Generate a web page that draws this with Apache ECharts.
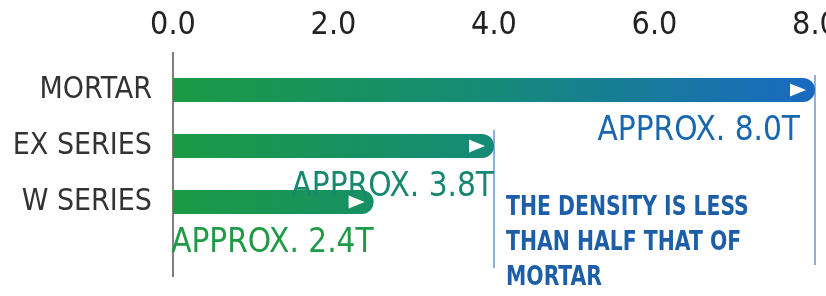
<!DOCTYPE html>
<html>
<head>
<meta charset="utf-8">
<style>
  html, body { margin: 0; padding: 0; background: #fff; }
  #chart { width: 826px; height: 296px; }
</style>
<script src="https://cdn.jsdelivr.net/npm/echarts@6/dist/echarts.min.js"></script>
</head>
<body>
<div id="chart"></div>
<script>
var categories = ['MORTAR', 'EX SERIES', 'W SERIES'];
var barValues = [8.0, 4.0, 2.5];
var valueLabels = ['APPROX. 8.0T', 'APPROX. 3.8T', 'APPROX. 2.4T'];
var labelColors = ['#1a67b0', '#17886f', '#1f9a47'];
var noteText = 'THE DENSITY IS LESS\nTHAN HALF THAT OF\nMORTAR';
var xTicks = { min: 0, max: 8, interval: 2 };

var FONT = '"DejaVu Sans Condensed", "Liberation Sans Narrow", sans-serif';

var chart = echarts.init(document.getElementById('chart'));

// gradient runs over the whole axis so the short bars stay green
var barFill = new echarts.graphic.LinearGradient(173, 0, 815, 0, [
    { offset: 0, color: '#1b9a44' },
    { offset: 0.5, color: '#158a78' },
    { offset: 1, color: '#1a69c2' }
], true);

var labelOffsets = [[-28, 0], [-13, 0], [-13, 0]];

var barData = barValues.map(function (v, i) {
    return {
        value: v,
        label: {
            formatter: valueLabels[i],
            color: labelColors[i],
            offset: labelOffsets[i]
        }
    };
});

var arrowData = barValues.map(function (v, i) {
    return [v, categories[i]];
});

var option = {
    animation: false,
    grid: {
        left: 173, right: 11, top: 62, height: 168,
        containLabel: false,
        outerBoundsMode: 'none'
    },
    xAxis: {
        type: 'value',
        position: 'top',
        min: xTicks.min,
        max: xTicks.max,
        interval: xTicks.interval,
        axisLine: { show: false },
        axisTick: { show: false },
        splitLine: { show: false },
        axisLabel: {
            margin: 20,
            fontFamily: FONT,
            fontSize: 32,
            color: '#222',
            formatter: function (v) { return v.toFixed(1); }
        }
    },
    yAxis: {
        type: 'category',
        inverse: true,
        data: categories,
        axisLine: { show: false },
        axisTick: { show: false },
        axisLabel: {
            margin: 21,
            fontFamily: FONT,
            fontSize: 30,
            color: '#333'
        }
    },
    series: [
        {
            type: 'bar',
            data: barData,
            barWidth: 24,
            itemStyle: { color: barFill, borderRadius: [0, 12, 12, 0] },
            label: {
                show: true,
                position: 'insideBottomRight',
                verticalAlign: 'top',
                align: 'right',
                distance: -13,
                fontFamily: FONT,
                fontSize: 33
            },
            z: 2
        },
        {
            type: 'scatter',
            data: arrowData,
            symbol: 'triangle',
            symbolSize: [13, 16],
            symbolRotate: -90,
            symbolOffset: [-17, 0],
            itemStyle: { color: '#fff', opacity: 1 },
            z: 3
        }
    ]
};

chart.setOption(option);

function px(x, cat) {
    return chart.convertToPixel({ gridIndex: 0 }, [x, cat]);
}

var p0a = px(0, categories[0]);
var p4 = px(4, categories[1]);
var p8 = px(8, categories[0]);
var pW = px(0, categories[2]);

chart.setOption({
    graphic: [
        {
            type: 'line',
            shape: { x1: p0a[0], y1: p0a[1] - 38, x2: p0a[0], y2: pW[1] + 75 },
            style: { stroke: '#555', lineWidth: 1.5 },
            z: 1
        },
        {
            type: 'line',
            shape: { x1: p4[0], y1: p4[1] - 16, x2: p4[0], y2: pW[1] + 66 },
            style: { stroke: '#6a94d2', lineWidth: 1.5 },
            z: 1
        },
        {
            type: 'line',
            shape: { x1: p8[0], y1: p8[1] - 15, x2: p8[0], y2: pW[1] + 63 },
            style: { stroke: '#6a94d2', lineWidth: 1.5 },
            z: 1
        },
        {
            type: 'text',
            x: p4[0] + 12,
            y: pW[1] - 12,
            scaleX: 0.84,
            style: {
                text: noteText,
                fontFamily: FONT,
                fontSize: 27,
                fontWeight: 'bold',
                lineHeight: 35,
                fill: '#1c5fa8'
            },
            z: 5
        }
    ]
});
</script>
</body>
</html>
